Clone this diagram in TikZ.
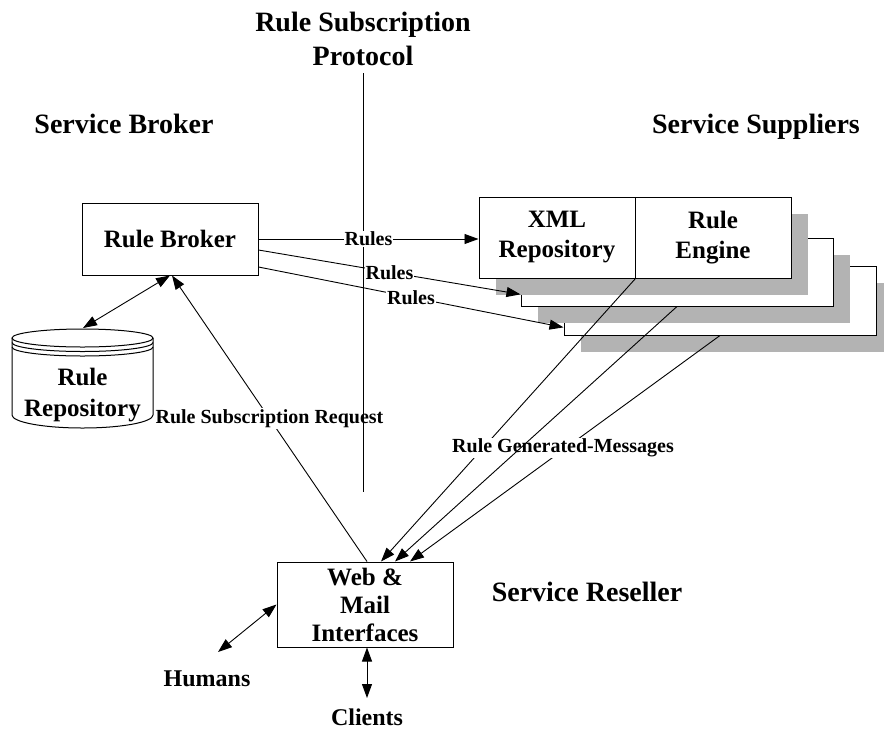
\documentclass[tikz,border=0pt]{standalone}
\usepackage{fontspec}
\setmainfont{Liberation Serif}
\usetikzlibrary{arrows.meta,calc}
\definecolor{shade}{RGB}{179,179,179}
\begin{document}
\begin{tikzpicture}[x=1pt,y=-1pt,
  every node/.style={font=\bfseries},
  title/.style={font=\fontsize{28}{34}\selectfont\bfseries, align=center, inner sep=0pt},
  boxtext/.style={font=\fontsize{25}{30}\selectfont\bfseries, align=center},
  box/.style={draw, line width=1pt, fill=white, boxtext, inner sep=0pt},
  shadowbox/.style={fill=shade, draw=none, inner sep=0pt},
  lbl/.style={font=\fontsize{20}{24}\selectfont\bfseries, fill=white, inner sep=1pt},
  endlbl/.style={font=\fontsize{24}{28}\selectfont\bfseries, inner sep=0pt},
  wire/.style={line width=0.9pt},
  tip/.style={Triangle[length=14pt,width=10pt]},
  arr/.style={wire, -{Triangle[length=14pt,width=10pt]}},
  darr/.style={wire, {Triangle[length=14pt,width=10pt]}-{Triangle[length=14pt,width=10pt]}},
]
\useasboundingbox (0,0) rectangle (884,729);
\clip (0,0) rectangle (884,729);

% section headings
\node[title] (protocol) at (363,39) {Rule Subscription\\Protocol};
\node[title, anchor=base] (brokerhead) at (124,133) {Service Broker};
\node[title, anchor=base] (supplierhead) at (756,133) {Service Suppliers};
\node[title, anchor=base] (resellerhead) at (587,601) {Service Reseller};

% stacked supplier units, back to front, each with a drop shadow
\coordinate (c3) at (720,300.5);
\node[shadowbox, minimum width=312pt, minimum height=69pt] (sh3) at ($(c3)+(17,17)$) {};
\node[box, minimum width=312pt, minimum height=69pt] (box3) at (c3) {};
\coordinate (c2) at (677,272);
\node[shadowbox, minimum width=312pt, minimum height=68pt] (sh2) at ($(c2)+(17,17)$) {};
\node[box, minimum width=312pt, minimum height=68pt] (box2) at (c2) {};
\coordinate (c1) at (635,237.5);
\node[shadowbox, minimum width=312pt, minimum height=81pt] (sh1) at ($(c1)+(17,17)$) {};
\node[box, minimum width=156pt, minimum height=81pt] (xml) at (557,237.5) {XML\\Repository};
\node[box, minimum width=156pt, minimum height=81pt] (engine) at (713,237.5) {Rule\\Engine};

% broker and reseller boxes
\node[box, minimum width=176pt, minimum height=72pt] (broker) at (170,239) {Rule Broker};
\node[box, minimum width=176pt, minimum height=85pt,
      font=\fontsize{25}{28}\selectfont\bfseries] (web) at (365,604.5) {Web \&\\Mail\\Interfaces};

% rule repository drum
\begin{scope}[line width=1pt]
  \fill[white] (12,338) -- (12,415) arc[start angle=180, end angle=0, x radius=70.5, y radius=13] -- (153,338) -- cycle;
  \draw (12,338) -- (12,415) arc[start angle=180, end angle=0, x radius=70.5, y radius=13] -- (153,338);
  \draw (82.5,338) ellipse[x radius=70.5, y radius=9];
  \draw (12,342.5) arc[start angle=180, end angle=0, x radius=70.5, y radius=9];
  \draw (12,347) arc[start angle=180, end angle=0, x radius=70.5, y radius=9];
\end{scope}
\node[boxtext, font=\fontsize{25}{31}\selectfont\bfseries] (repo) at (82.5,395.5) {Rule\\Repository};
\coordinate (cyltop) at (83,328);

% outside parties
\node[endlbl, anchor=base] (humans) at (207,686) {Humans};
\node[endlbl, anchor=base] (clients) at (367,725) {Clients};
\coordinate (hend) at (218,652);
\coordinate (cend) at (367,698);

% broker side connectors
\draw[darr] (cyltop) -- (broker.south);
\draw[arr] ([xshift=2pt]web.north) -- node[lbl] (request) {Rule Subscription Request} ([xshift=2pt]broker.south);

% protocol boundary
\coordinate (vtop) at (363,73);
\coordinate (vbot) at (363,492);
\draw[wire] (vtop) -- (vbot);

% rules pushed to the suppliers
\draw[arr] (broker.east) -- node[lbl] (rules1) {Rules} (broker.east -| xml.west);
\draw[arr] ([yshift=-11pt]broker.east) -- node[lbl] (rules2) {Rules} ($(box2.south west)!0.176!(box2.north west)$);
\draw[arr] ([yshift=-28pt]broker.east) -- node[lbl] (rules3) {Rules} ($(box3.south west)!0.116!(box3.north west)$);

% messages generated by the suppliers
\draw[arr] (xml.south east) -- ([xshift=16pt]web.north);
\draw[arr] (box3.south) -- ([xshift=45pt]web.north);
\node[lbl] (generated) at (563,448) {Rule Generated-Messages};
\draw[arr] (box2.south) -- ([xshift=30pt]web.north);

% humans and clients
\draw[darr] (web.west) -- (hend);
\draw[darr] ([xshift=2pt]web.south) -- (cend);
\end{tikzpicture}
\end{document}
